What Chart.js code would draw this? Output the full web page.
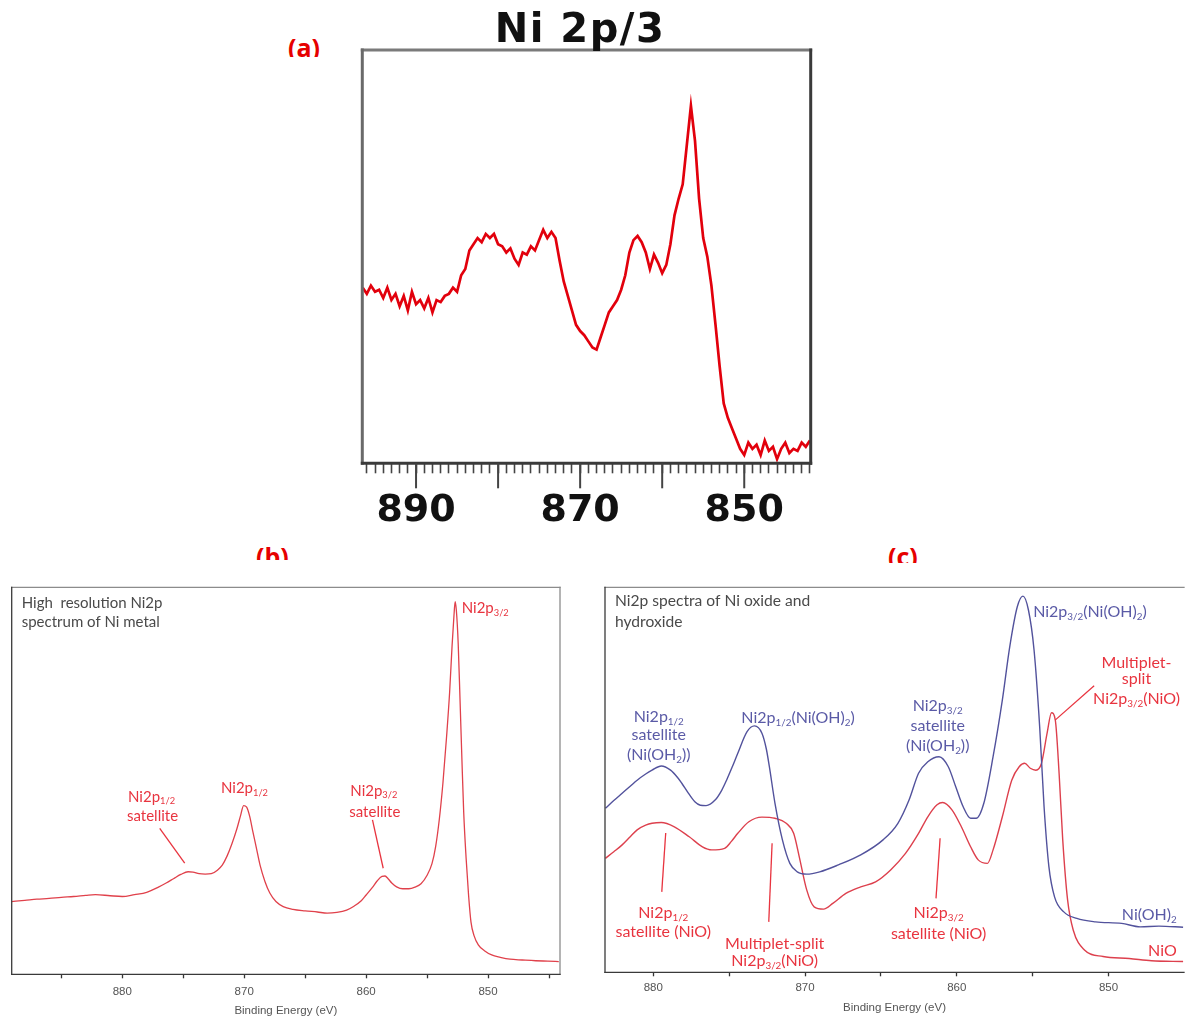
<!DOCTYPE html>
<html>
<head>
<meta charset="utf-8">
<script src="https://cdn.jsdelivr.net/npm/chart.js@4.4.1/dist/chart.umd.min.js"></script>
<style>
  html, body { margin: 0; padding: 0; background: #fff; }
  body { width: 1185px; height: 1018px; position: relative; overflow: hidden; }
  canvas { position: absolute; }
  .tag { position: absolute; overflow: hidden; color: #e60000; font: bold 25px "Open Sans", sans-serif; line-height: 30px; white-space: nowrap; }
</style>
</head>
<body>
<div class="tag" style="left:288px; top:32px; height:24.7px;">(a)</div>
<div class="tag" style="left:256px; top:541px; height:19px;">(b)</div>
<div class="tag" style="left:888px; top:541px; height:21.7px;">(c)</div>

<canvas id="chartA" width="500" height="535" style="left:340px; top:0px;"></canvas>
<canvas id="chartB" width="590" height="443" style="left:0px; top:575px;"></canvas>
<canvas id="chartC" width="590" height="443" style="left:595px; top:575px;"></canvas>

<script>
// ---------- (a) Ni 2p/3 survey trace ----------
const aEnergy = [
  896.5, 896.0, 895.5, 895.0, 894.5, 894.0, 893.5, 893.0, 892.5, 892.0,
  891.5, 891.0, 890.5, 890.0, 889.5, 889.0, 888.5, 888.0, 887.5, 887.0,
  886.5, 886.0, 885.5, 885.0, 884.5, 884.0, 883.5, 883.0, 882.5, 882.0,
  881.5, 881.0, 880.5, 880.0, 879.5, 879.0, 878.5, 878.0, 877.5, 877.0,
  876.5, 876.0, 875.5, 875.0, 874.5, 874.0, 873.5, 873.0, 872.5, 872.0,
  871.5, 871.0, 870.5, 870.0, 869.5, 869.0, 868.5, 868.0, 867.5, 867.0,
  866.5, 866.0, 865.5, 865.0, 864.5, 864.0, 863.5, 863.0, 862.5, 862.0,
  861.5, 861.0, 860.5, 860.0, 859.5, 859.0, 858.5, 858.0, 857.5, 857.0,
  856.5, 856.0, 855.5, 855.0, 854.5, 854.0, 853.5, 853.0, 852.5, 852.0,
  851.5, 851.0, 850.5, 850.0, 849.5, 849.0, 848.5, 848.0, 847.5, 847.0,
  846.5, 846.0, 845.5, 845.0, 844.5, 844.0, 843.5, 843.0, 842.5, 842.0
];
const aIntensity = [
  42.5, 41.0, 43.0, 41.5, 42.0, 40.0, 42.5, 39.5, 41.0, 38.0,
  40.5, 37.0, 41.5, 38.5, 39.5, 37.5, 40.0, 36.5, 39.5, 39.0,
  40.5, 41.0, 42.5, 41.5, 45.5, 47.0, 51.5, 53.0, 54.5, 53.5,
  55.5, 54.5, 55.5, 53.0, 52.5, 51.0, 52.0, 49.5, 48.0, 51.0,
  50.5, 52.5, 51.5, 54.0, 56.5, 54.5, 56.0, 54.5, 49.0, 44.0,
  40.5, 37.0, 33.5, 32.0, 31.0, 29.5, 28.0, 27.5, 30.5, 33.5,
  36.5, 38.0, 39.5, 42.0, 45.5, 51.0, 54.0, 55.0, 53.5, 51.0,
  47.0, 50.5, 48.5, 46.0, 48.0, 53.0, 60.0, 64.0, 67.5, 77.0,
  86.5, 78.0, 64.0, 54.5, 50.0, 43.0, 33.5, 23.5, 14.5, 11.0,
  8.5, 6.0, 3.5, 2.0, 5.0, 3.5, 4.5, 2.0, 5.5, 3.0,
  4.0, 1.0, 3.5, 5.0, 2.5, 3.5, 3.0, 5.0, 4.0, 5.5
];
const aTickLabels = [890, 870, 850];

// ---------- (b) Ni metal ----------
const bEnergy = [
  889.1, 888.0, 887.0, 886.0, 885.0, 884.0, 883.0, 882.2, 881.0, 880.0,
  879.0, 878.0, 877.0, 876.4, 875.8, 875.2, 874.6, 874.2, 873.7, 873.2,
  872.7, 872.2, 871.8, 871.4, 871.0, 870.6, 870.3, 870.05, 869.8, 869.55,
  869.3, 869.0, 868.7, 868.3, 867.9, 867.4, 866.8, 866.0, 865.0, 864.0,
  863.2, 862.4, 861.6, 861.0, 860.4, 860.0, 859.5, 859.1, 858.7, 858.45,
  858.2, 857.9, 857.5, 857.0, 856.5, 856.0, 855.5, 855.0, 854.6, 854.3,
  854.0, 853.7, 853.4, 853.15, 852.95, 852.8, 852.7, 852.6, 852.45, 852.3,
  852.15, 852.0, 851.8, 851.6, 851.4, 851.15, 850.8, 850.3, 849.7, 849.0,
  848.2, 847.2, 846.1, 845.1, 844.2
];
const bIntensity = [
  18.8, 19.1, 19.4, 19.6, 19.9, 20.1, 20.4, 20.6, 20.3, 20.1,
  20.6, 21.2, 22.6, 23.6, 24.7, 25.8, 26.5, 26.4, 26.0, 25.9,
  26.0, 26.9, 28.2, 30.6, 33.8, 37.6, 41.0, 43.6, 43.2, 40.8,
  37.0, 32.6, 28.2, 24.0, 21.0, 18.8, 17.5, 16.8, 16.4, 16.1,
  15.8, 16.0, 16.6, 17.6, 19.0, 20.5, 22.4, 24.1, 25.3, 25.4,
  24.7, 23.6, 22.6, 22.1, 22.1, 22.5, 23.4, 25.6, 28.6, 33.0,
  40.0, 49.5, 61.5, 73.0, 85.0, 92.5, 96.3, 94.0, 85.5, 71.0,
  56.0, 42.0, 30.0, 20.5, 13.5, 10.0, 7.6, 6.1, 5.0, 4.4,
  3.9, 3.7, 3.5, 3.4, 3.3
];
const bTickLabels = [880, 870, 860, 850];

// ---------- (c) Ni(OH)2 and NiO ----------
const cEnergyOH = [
  883.15, 882.6, 882.05, 881.5, 881.06, 880.5, 880.08, 879.47, 878.86, 878.4,
  878.12, 877.7, 877.26, 876.9, 876.52, 875.91, 875.5, 875.17, 874.8, 874.43,
  873.82, 873.33, 872.84, 872.55, 872.35, 871.98, 871.49, 871.0, 870.51, 869.89,
  869.03, 867.8, 866.33, 864.86, 863.88, 863.14, 862.52, 861.91, 861.17, 860.56,
  860.07, 859.58, 859.09, 858.72, 858.22, 857.61, 857.0, 856.51, 856.01, 855.64,
  855.28, 854.91, 854.54, 854.25, 853.93, 853.56, 852.95, 852.09, 850.86, 849.14,
  847.91, 846.68, 845.09
];
const cIntensityOH = [
  42.6, 44.6, 46.5, 48.4, 49.9, 51.5, 52.5, 53.6, 52.5, 50.6,
  49.1, 46.6, 44.3, 43.4, 43.3, 44.8, 47.2, 49.9, 53.3, 56.9,
  62.5, 64.0, 62.1, 58.0, 53.4, 43.9, 34.4, 28.3, 26.1, 25.5,
  26.1, 27.9, 30.5, 34.4, 38.7, 44.8, 51.7, 54.7, 56.0, 53.4,
  48.2, 43.0, 40.0, 40.0, 43.9, 56.0, 70.7, 84.6, 95.0, 97.7,
  94.1, 83.7, 63.8, 43.0, 27.4, 19.6, 15.7, 14.0, 13.1, 12.7,
  11.8, 12.0, 11.7
];
const cEnergyNiO = [
  883.15, 882.6, 882.05, 881.5, 881.06, 880.5, 880.08, 879.47, 878.61, 877.63,
  876.76, 876.15, 875.30, 874.85, 874.43, 873.70, 872.84, 871.98, 871.24, 870.75,
  870.38, 869.89, 869.40, 868.78, 868.17, 867.31, 866.33, 865.35, 864.36, 863.38,
  862.52, 861.91, 861.30, 860.93, 860.32, 859.70, 859.09, 858.59, 857.98, 857.61,
  857.0, 856.38, 855.89, 855.53, 855.16, 854.79, 854.42, 854.05, 853.76, 853.51,
  853.26, 853.02, 852.70, 852.33, 851.59, 850.36, 848.64, 847.17, 845.09
];
const cIntensityNiO = [
  29.6, 31.3, 33.1, 35.3, 37.0, 38.2, 38.7, 38.9, 37.8, 35.2,
  32.6, 31.8, 32.2, 34.0, 36.1, 39.1, 40.3, 40.0, 38.7, 36.1,
  30.0, 21.4, 17.0, 16.4, 17.9, 20.5, 22.2, 23.5, 26.6, 30.9,
  36.1, 40.4, 43.5, 44.1, 42.2, 37.8, 32.6, 29.2, 28.3, 31.8,
  40.4, 49.9, 53.4, 54.3, 53.0, 52.5, 54.3, 62.1, 67.4, 65.5,
  51.7, 34.4, 18.8, 11.0, 5.8, 4.1, 3.6, 3.0, 2.8
];
const cTickLabels = [880, 870, 860, 850];

// ---------- styling ----------
const RED = '#e8343f';
const BLUE = '#5a5aa6';
const GRAY = '#4a4a4a';
const LABEL_FONT = 'Lato, "Open Sans", sans-serif';
const AXIS_FONT = '"Liberation Sans", Arial, sans-serif';

const toPoints = (xs, ys) => xs.map((x, i) => ({ x: x, y: ys[i] }));

// Text with "_{...}" segments rendered as subscripts.
function drawRich(ctx, str, x, y, align, size, weight, family, color, spacing) {
  const parts = str.split(/_\{([^}]*)\}/);
  const mainFont = `${weight} ${size}px ${family}`;
  const subFont = `${weight} ${(size * 0.62).toFixed(1)}px ${family}`;
  ctx.letterSpacing = spacing ? spacing + 'px' : '0px';
  let w = 0;
  parts.forEach((p, i) => { ctx.font = i % 2 ? subFont : mainFont; w += ctx.measureText(p).width; });
  let cx = align === 'center' ? x - w / 2 : align === 'right' ? x - w : x;
  ctx.fillStyle = color;
  ctx.textAlign = 'left';
  parts.forEach((p, i) => {
    ctx.font = i % 2 ? subFont : mainFont;
    ctx.fillText(p, cx, y + (i % 2 ? size * 0.3 : 0));
    cx += ctx.measureText(p).width;
  });
  ctx.letterSpacing = '0px';
}

// Frame, extra tick marks, leader lines and text notes for one panel.
function makeNotes(cfg) {
  return {
    id: 'notes',
    afterDraw(chart) {
      const { ctx, chartArea: a } = chart;
      const xs = chart.scales.x, ys = chart.scales.y;
      const at = n => n.e !== undefined
        ? [xs.getPixelForValue(n.e), ys.getPixelForValue(n.v)]
        : [a.left + n.px, a.top + n.py];
      ctx.save();

      const f = cfg.frame;
      ctx.lineWidth = f.width;
      ctx.lineCap = 'square';
      const side = (col, x1, y1, x2, y2) => {
        if (!col) return;
        ctx.strokeStyle = col;
        ctx.beginPath(); ctx.moveTo(x1, y1); ctx.lineTo(x2, y2); ctx.stroke();
      };
      side(f.top, a.left, a.top, a.right, a.top);
      side(f.right, a.right, a.top, a.right, a.bottom);
      side(f.left, a.left, a.top, a.left, a.bottom);
      side(f.bottom, a.left, a.bottom, a.right, a.bottom);

      if (cfg.major) {
        ctx.strokeStyle = cfg.major.color;
        ctx.lineWidth = cfg.major.width;
        ctx.lineCap = 'butt';
        xs.ticks.forEach(t => {
          if (t.value % cfg.major.every === 0) {
            const px = xs.getPixelForValue(t.value);
            ctx.beginPath(); ctx.moveTo(px, a.bottom); ctx.lineTo(px, a.bottom + cfg.major.len); ctx.stroke();
          }
        });
      }

      (cfg.lines || []).forEach(l => {
        ctx.strokeStyle = l.color;
        ctx.lineWidth = 1.3;
        ctx.lineCap = 'butt';
        const p1 = at({ e: l.from[0], v: l.from[1] });
        const p2 = at({ e: l.to[0], v: l.to[1] });
        ctx.beginPath(); ctx.moveTo(p1[0], p1[1]); ctx.lineTo(p2[0], p2[1]); ctx.stroke();
      });

      ctx.textBaseline = cfg.baseline || 'middle';
      (cfg.texts || []).forEach(n => {
        const [px, py] = at(n);
        drawRich(ctx, n.t, px, py, n.align || 'center', n.size || cfg.size,
          n.weight || 'normal', n.family || LABEL_FONT, n.color, n.spacing);
      });
      ctx.restore();
    }
  };
}

function baseOptions(o) {
  return {
    responsive: false,
    animation: false,
    events: [],
    layout: { padding: o.padding },
    plugins: { legend: { display: false }, tooltip: { enabled: false }, title: { display: false } },
    elements: { point: { radius: 0 } },
    scales: {
      x: {
        type: 'linear', reverse: true, min: o.min, max: o.max,
        afterFit: s => { s.height = o.axisHeight; },
        border: { display: false },
        grid: { display: true, drawOnChartArea: false, drawTicks: true, tickLength: o.tickLength,
                tickColor: o.tickColor, tickWidth: o.tickWidth },
        ticks: {
          stepSize: o.step, autoSkip: false, maxRotation: 0, minRotation: 0, includeBounds: false,
          padding: o.tickPadding, color: o.labelColor, font: o.labelFont,
          callback: v => (o.labels.includes(v) ? String(v) : '')
        },
        title: o.title
      },
      y: { display: false, min: 0, max: 100 }
    }
  };
}

// ---------- chart (a) ----------
new Chart(document.getElementById('chartA'), {
  type: 'line',
  data: { datasets: [{ data: toPoints(aEnergy, aIntensity), borderColor: '#e2000c', borderWidth: 2.7, tension: 0 }] },
  options: baseOptions({
    padding: { left: 22.3, right: 29.3, top: 50, bottom: 0 },
    min: 841.9, max: 896.55, axisHeight: 71.7, step: 1,
    tickLength: 10, tickColor: '#444', tickWidth: 1.6, tickPadding: 15,
    labelColor: '#111', labelFont: { family: '"DejaVu Sans", sans-serif', weight: 'bold', size: 38 },
    labels: aTickLabels, title: { display: false }
  }),
  plugins: [makeNotes({
    frame: { width: 3, top: '#7a7a7a', right: '#3a3a3a', left: '#6a6a6a', bottom: '#3a3a3a' },
    major: { every: 10, len: 25, color: '#444', width: 2 },
    baseline: 'alphabetic',
    texts: [
      { t: 'Ni 2p/3', px: 217.7, py: -8, size: 40, weight: 'bold', family: '"DejaVu Sans", sans-serif', color: '#111', spacing: 1.5 }
    ]
  })]
});

// ---------- chart (b) ----------
new Chart(document.getElementById('chartB'), {
  type: 'line',
  data: { datasets: [{ data: toPoints(bEnergy, bIntensity), borderColor: '#e0414b', borderWidth: 1.3,
                       cubicInterpolationMode: 'monotone' }] },
  options: baseOptions({
    padding: { left: 11.7, right: 30, top: 12.3, bottom: 0 },
    min: 844.1, max: 889.07, axisHeight: 43.7, step: 5,
    tickLength: 4, tickColor: '#333', tickWidth: 1.3, tickPadding: 6.5,
    labelColor: '#555', labelFont: { family: AXIS_FONT, size: 11.5 },
    labels: bTickLabels,
    title: { display: true, text: 'Binding Energy (eV)', color: '#555',
             font: { family: AXIS_FONT, size: 11.5 }, padding: { top: 0, bottom: 0 } }
  }),
  plugins: [makeNotes({
    frame: { width: 1.3, top: '#8c8c8c', right: '#8c8c8c', left: '#3a3a3a', bottom: '#3a3a3a' },
    size: 15,
    lines: [
      { from: [876.93, 37.7], to: [874.88, 28.7], color: RED },
      { from: [859.48, 39.9], to: [858.60, 27.4], color: RED }
    ],
    texts: [
      { t: 'High  resolution Ni2p', px: 10, py: 15.4, align: 'left', color: GRAY, size: 15 },
      { t: 'spectrum of Ni metal', px: 10, py: 35, align: 'left', color: GRAY, size: 15 },
      { t: 'Ni2p_{3/2}', e: 852.16, v: 94.6, align: 'left', color: RED },
      { t: 'Ni2p_{1/2}', e: 869.98, v: 48.1, color: RED },
      { t: 'Ni2p_{1/2}', e: 877.6, v: 45.9, color: RED },
      { t: 'satellite', e: 877.52, v: 40.9, color: RED },
      { t: 'Ni2p_{3/2}', e: 859.37, v: 47.4, color: RED },
      { t: 'satellite', e: 859.29, v: 42.0, color: RED }
    ]
  })]
});

// ---------- chart (c) ----------
new Chart(document.getElementById('chartC'), {
  type: 'line',
  data: { datasets: [
    { data: toPoints(cEnergyOH, cIntensityOH), borderColor: '#52529c', borderWidth: 1.4, cubicInterpolationMode: 'monotone' },
    { data: toPoints(cEnergyNiO, cIntensityNiO), borderColor: '#dd404d', borderWidth: 1.4, cubicInterpolationMode: 'monotone' }
  ] },
  options: baseOptions({
    padding: { left: 10, right: 1, top: 12.3, bottom: 0 },
    min: 845.03, max: 883.18, axisHeight: 45.7, step: 5,
    tickLength: 4, tickColor: '#333', tickWidth: 1.3, tickPadding: 5.1,
    labelColor: '#555', labelFont: { family: AXIS_FONT, size: 11.5 },
    labels: cTickLabels,
    title: { display: true, text: 'Binding Energy (eV)', color: '#555',
             font: { family: AXIS_FONT, size: 11.5 }, padding: { top: 0, bottom: 2.8 } }
  }),
  plugins: [makeNotes({
    frame: { width: 1.3, top: '#8c8c8c', right: null, left: '#3a3a3a', bottom: '#3a3a3a' },
    size: 16,
    lines: [
      { from: [850.95, 74.4], to: [853.52, 65.5], color: RED },
      { from: [879.18, 36.2], to: [879.44, 20.9], color: RED },
      { from: [872.17, 33.5], to: [872.39, 13.1], color: RED },
      { from: [861.10, 34.8], to: [861.37, 19.2], color: RED }
    ],
    texts: [
      { t: 'Ni2p spectra of Ni oxide and', px: 10, py: 13.4, align: 'left', color: GRAY, size: 15.6 },
      { t: 'hydroxide', px: 10, py: 34.4, align: 'left', color: GRAY, size: 15.6 },
      { t: 'Ni2p_{1/2}', e: 879.64, v: 66.4, color: BLUE },
      { t: 'satellite', e: 879.64, v: 61.6, color: BLUE },
      { t: '(Ni(OH_{2}))', e: 879.64, v: 56.4, color: BLUE },
      { t: 'Ni2p_{1/2}(Ni(OH)_{2})', e: 874.20, v: 66.1, align: 'left', color: BLUE },
      { t: 'Ni2p_{3/2}', e: 861.26, v: 69.2, color: BLUE },
      { t: 'satellite', e: 861.26, v: 64.0, color: BLUE },
      { t: '(Ni(OH_{2}))', e: 861.26, v: 58.9, color: BLUE },
      { t: 'Ni2p_{3/2}(Ni(OH)_{2})', e: 854.97, v: 93.5, align: 'left', color: BLUE },
      { t: 'Multiplet-', e: 848.16, v: 80.5, color: RED },
      { t: 'split', e: 848.16, v: 76.2, color: RED },
      { t: 'Ni2p_{3/2}(NiO)', e: 848.16, v: 71.0, color: RED },
      { t: 'Ni2p_{1/2}', e: 879.34, v: 15.4, color: RED },
      { t: 'satellite (NiO)', e: 879.34, v: 10.6, color: RED },
      { t: 'Multiplet-split', e: 872.0, v: 7.4, color: RED },
      { t: 'Ni2p_{3/2}(NiO)', e: 872.0, v: 2.9, color: RED },
      { t: 'Ni2p_{3/2}', e: 861.2, v: 15.4, color: RED },
      { t: 'satellite (NiO)', e: 861.2, v: 10.0, color: RED },
      { t: 'Ni(OH)_{2}', e: 845.51, v: 15.0, align: 'right', color: BLUE },
      { t: 'NiO', e: 845.51, v: 5.5, align: 'right', color: RED }
    ]
  })]
});
</script>
</body>
</html>
